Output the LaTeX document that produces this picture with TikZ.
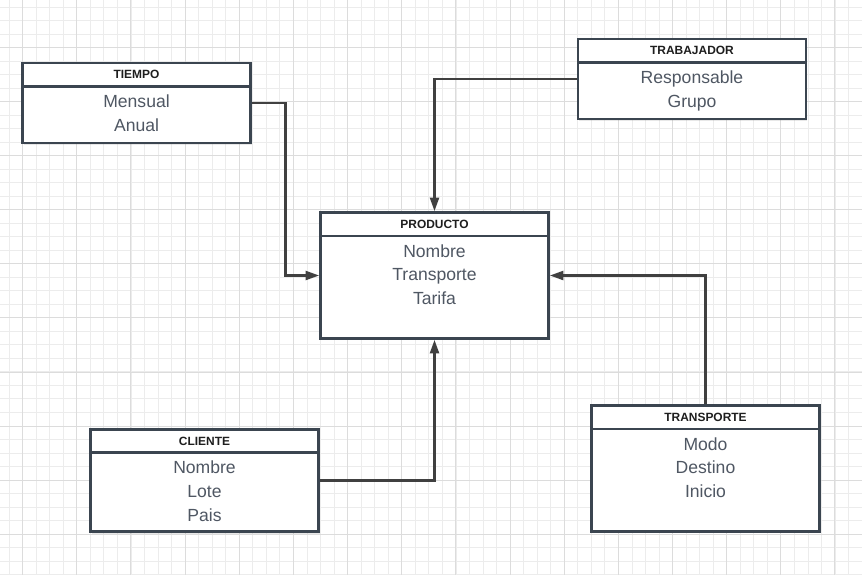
\documentclass[tikz,border=0pt]{standalone}
\usepackage{fontspec}
\setmainfont{Liberation Sans}
\usetikzlibrary{arrows.meta, positioning, calc, shadows}
\definecolor{bordeOscuro}{HTML}{3B4550}
\definecolor{textoGris}{HTML}{4F5763}
\definecolor{textoCab}{HTML}{1E1E1E}
\definecolor{lineaConector}{HTML}{404040}
\definecolor{rejillaMenor}{HTML}{ECECEC}
\definecolor{rejillaMayor}{HTML}{DCDCDC}
\tikzset{
  entidad/.style={rectangle, draw=bordeOscuro, line width=1.6pt, fill=white,
                  minimum width=4.56cm, inner sep=0pt,
                  drop shadow={shadow xshift=0.6pt, shadow yshift=-1pt, opacity=0.18}},
  cabecera/.style={rectangle, draw=bordeOscuro, line width=1.6pt, anchor=north,
                   minimum width=4.56cm, minimum height=0.47cm, inner sep=0pt,
                   text=textoCab, font=\bfseries\fontsize{6.8}{8}\selectfont},
  atributos/.style={align=center, inner sep=0pt, text=textoGris,
                    font=\fontsize{10}{13.6}\selectfont},
  conector/.style={-{Triangle[length=2.7mm, width=1.8mm]}, lineaConector, line width=1.3pt},
  rejillaA/.style={rejillaMenor, line width=0.02cm},
  rejillaB/.style={rejillaMayor, line width=0.02cm},
}
\begin{document}
\begin{tikzpicture}[x=0.02cm, y=-0.02cm]
    \useasboundingbox (0,0) rectangle (862,575);
    \fill[white] (0,0) rectangle (862,575);
    \foreach \i in {0,...,63} \draw[rejillaA] ({int(9.2+13.54*\i)+0.5},0) -- ++(0,575);
    \foreach \i in {0,...,42} \draw[rejillaA] (0,{int(7.2+13.51*\i)+0.5}) -- ++(862,0);
    \foreach \i in {0,...,15} \draw[rejillaB] ({int(22.7+54.15*\i)+0.5},0) -- ++(0,575);
    \foreach \i in {0,...,9} \draw[rejillaB] (0,{int(47.7+54.05*\i)+0.5}) -- ++(862,0);

    \node[entidad, minimum height=1.6cm] (tiempo) at (136.5,103) {};
    \node[cabecera] (tiempoCab) at (tiempo.north) {TIEMPO};
    \node[atributos, below=0.13cm of tiempoCab] (tiempoAtr) {Mensual\\Anual};

    \node[entidad, minimum height=1.6cm] (trabajador) at (692,79) {};
    \node[cabecera] (trabajadorCab) at (trabajador.north) {TRABAJADOR};
    \node[atributos, below=0.13cm of trabajadorCab] (trabajadorAtr) {Responsable\\Grupo};

    \node[entidad, minimum height=2.52cm] (producto) at (434.5,275.5) {};
    \node[cabecera] (productoCab) at (producto.north) {PRODUCTO};
    \node[atributos, below=0.13cm of productoCab] (productoAtr) {Nombre\\Transporte\\Tarifa};

    \node[entidad, minimum height=2.05cm] (cliente) at (204.5,480.5) {};
    \node[cabecera] (clienteCab) at (cliente.north) {CLIENTE};
    \node[atributos, below=0.13cm of clienteCab] (clienteAtr) {Nombre\\Lote\\Pais};

    \node[entidad, minimum height=2.52cm] (transporte) at (705.5,468.5) {};
    \node[cabecera] (transporteCab) at (transporte.north) {TRANSPORTE};
    \node[atributos, below=0.13cm of transporteCab] (transporteAtr) {Modo\\Destino\\Inicio};

    \draw[conector] (tiempo.east) -| ($(tiempo.east)!0.5!(producto.west)$) |- (producto.west);
    \draw[conector] (trabajador.west) -| (producto.north);
    \draw[conector] (transporte.north) |- (producto.east);
    \draw[conector] (cliente.east) -| (producto.south);
\end{tikzpicture}
\end{document}
